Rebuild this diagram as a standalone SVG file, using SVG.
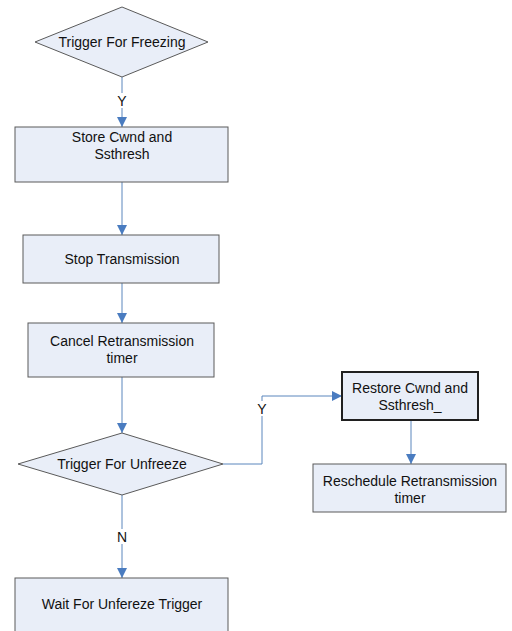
<svg xmlns="http://www.w3.org/2000/svg" width="512" height="631" viewBox="0 0 512 631">
<style>
.n{fill:#e9eef8;stroke:#5a5a5a;stroke-width:1}
.d{fill:#e9eef8;stroke:#5a5a5a;stroke-width:1}
.b{fill:#e9eef8;stroke:#202020;stroke-width:2}
text{font-family:"Liberation Sans",Arial,sans-serif;font-size:14px;fill:#111;text-anchor:middle}
.c{fill:none;stroke:#5b86bd;stroke-width:1}
.lb{fill:#fff}
</style>
<defs>
<marker id="ah" viewBox="0 0 10 10" refX="10" refY="5" markerWidth="10" markerHeight="10" markerUnits="userSpaceOnUse" orient="auto">
<path d="M0,0 L10,5 L0,10 Z" fill="#4a7cc0"/>
</marker>
</defs>
<rect width="512" height="631" fill="#fff"/>
<g id="connectors">
<path class="c" d="M122,77 V127" marker-end="url(#ah)"/>
<path class="c" d="M122,182 V235" marker-end="url(#ah)"/>
<path class="c" d="M122,283 V323" marker-end="url(#ah)"/>
<path class="c" d="M122,377 V433" marker-end="url(#ah)"/>
<path class="c" d="M223,464 H262 V396 H342" marker-end="url(#ah)"/>
<path class="c" d="M411,420 V464" marker-end="url(#ah)"/>
<path class="c" d="M122,495 V578" marker-end="url(#ah)"/>
<rect class="lb" x="115" y="93" width="14" height="15"/>
<text x="122" y="106">Y</text>
<rect class="lb" x="255" y="401" width="14" height="15"/>
<text x="262" y="414">Y</text>
<rect class="lb" x="115" y="529" width="14" height="15"/>
<text x="122" y="542">N</text>
</g>
<g id="trigger-freezing">
<polygon class="d" points="35,42 122,7 208,42 122,77"/>
<text x="122" y="47">Trigger For Freezing</text>
</g>
<g id="store">
<rect class="n" x="15" y="127" width="213" height="55"/>
<text x="122" y="142">Store Cwnd and</text>
<text x="122" y="159">Ssthresh</text>
</g>
<g id="stop">
<rect class="n" x="23" y="235" width="196" height="48"/>
<text x="122" y="264">Stop Transmission</text>
</g>
<g id="cancel">
<rect class="n" x="28" y="323" width="186" height="54"/>
<text x="122" y="346">Cancel Retransmission</text>
<text x="122" y="363">timer</text>
</g>
<g id="trigger-unfreeze">
<polygon class="d" points="18,464 122,433 223,464 122,495"/>
<text x="122" y="469">Trigger For Unfreeze</text>
</g>
<g id="restore">
<rect class="b" x="342" y="372" width="136" height="48"/>
<text x="410" y="393">Restore Cwnd and</text>
<text x="410" y="410">Ssthresh_</text>
</g>
<g id="reschedule">
<rect class="n" x="313" y="464" width="193" height="48"/>
<text x="410" y="486">Reschedule Retransmission</text>
<text x="410" y="503">timer</text>
</g>
<g id="wait">
<rect class="n" x="15" y="578" width="213" height="60"/>
<text x="122" y="609">Wait For Unfereze Trigger</text>
</g>
</svg>
